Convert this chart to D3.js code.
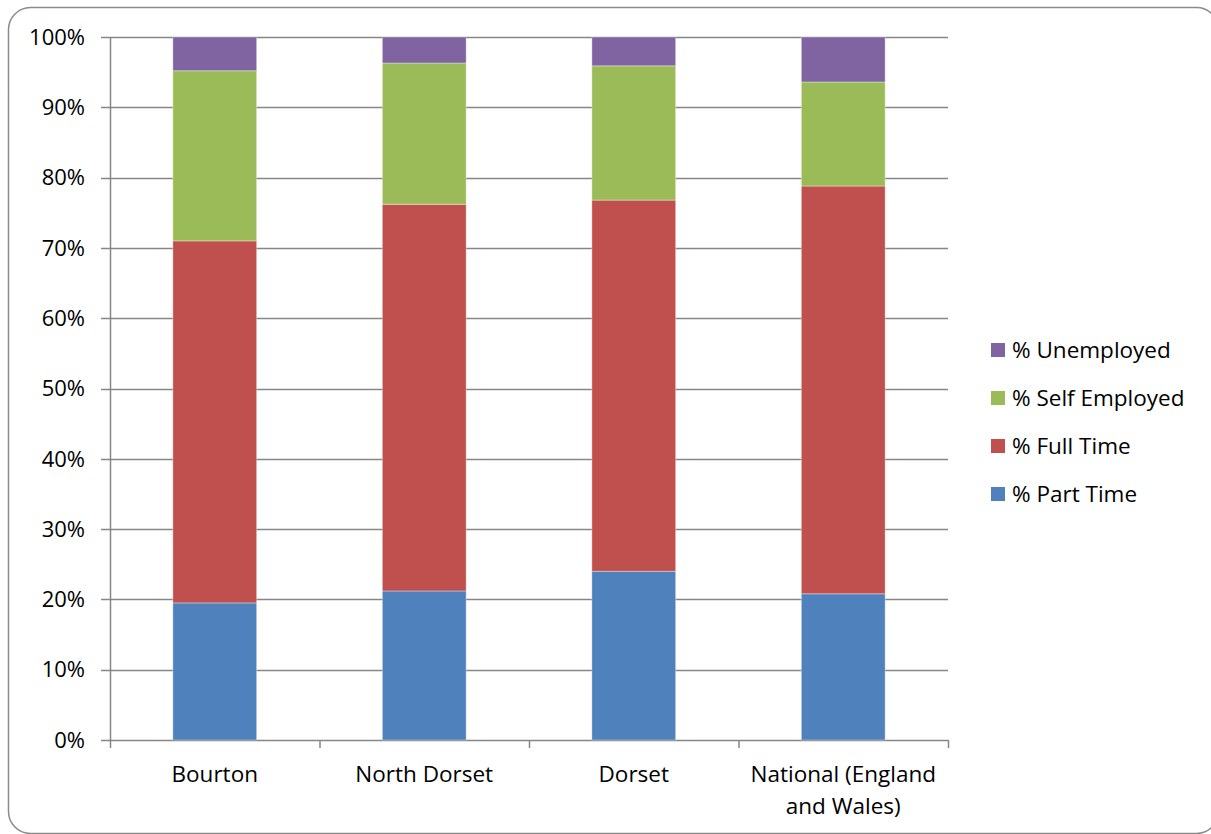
<!DOCTYPE html>
<html><head><meta charset="utf-8">
<script src="https://cdn.jsdelivr.net/npm/d3@7"></script>
<style>body{margin:0;background:#fff}svg{display:block}</style>
</head><body>
<svg id="c" width="1211" height="834"></svg>
<script>
const categories = ["Bourton", "North Dorset", "Dorset", "National (England and Wales)"];
const categoryLines = [["Bourton"], ["North Dorset"], ["Dorset"], ["National (England", "and Wales)"]];
const seriesNames = ["% Part Time", "% Full Time", "% Self Employed", "% Unemployed"];
const partTime = [19.5, 21.2, 24.0, 20.8];
const fullTime = [51.5, 55.0, 52.8, 58.0];
const selfEmployed = [24.2, 20.1, 19.1, 14.8];
const unemployed = [4.8, 3.7, 4.1, 6.4];
const colors = ["#4F81BD", "#C0504D", "#9BBB59", "#8064A2"];
const yTicks = [0, 10, 20, 30, 40, 50, 60, 70, 80, 90, 100];

const font = "'Open Sans', sans-serif";
const fsY = 22, fs = 22.5;
const svg = d3.select("#c");
svg.append("rect").attr("x", 8.5).attr("y", 7.5).attr("width", 1210).attr("height", 826)
  .attr("rx", 22).attr("fill", "#fff").attr("stroke", "#8a8a8a").attr("stroke-width", 1.5);

const L = 110, R = 948, T = 37, B = 740;
const x = d3.scaleBand().domain(categories).range([L, R]).paddingInner(0.6).paddingOuter(0.3);
const y = d3.scaleLinear().domain([0, 100]).range([B, T]);

const rows = categories.map((c, i) => ({cat: c, v: [partTime[i], fullTime[i], selfEmployed[i], unemployed[i]]}));
const stackData = rows.map(r => { const o = {cat: r.cat}; seriesNames.forEach((s, j) => o[s] = r.v[j]); return o; });
const stacked = d3.stack().keys(seriesNames)(stackData);

// gridlines
svg.append("g").selectAll("line").data(yTicks).join("line")
  .attr("x1", L - 9).attr("x2", R).attr("y1", d => Math.round(y(d)) + 0.5).attr("y2", d => Math.round(y(d)) + 0.5)
  .attr("stroke", "#868686").attr("stroke-width", 1.5);

// bars
svg.append("g").selectAll("g").data(stacked).join("g")
  .attr("fill", (d, i) => colors[i])
  .selectAll("rect").data(d => d).join("rect")
  .attr("x", d => x(d.data.cat)).attr("width", x.bandwidth())
  .attr("y", d => y(Math.min(100, d[1]))).attr("height", d => y(d[0]) - y(Math.min(100, d[1])))
  .attr("stroke", "rgba(255,255,255,0.35)").attr("stroke-width", 1);

// y axis line
svg.append("line").attr("x1", L + 0.5).attr("x2", L + 0.5).attr("y1", T).attr("y2", B + 1)
  .attr("stroke", "#868686").attr("stroke-width", 1.5);
// x axis ticks
const step = (R - L) / categories.length;
const xt = d3.range(categories.length + 1).map(i => L + i * step);
svg.append("g").selectAll("line").data(xt).join("line")
  .attr("x1", d => d + 0.5).attr("x2", d => d + 0.5).attr("y1", B).attr("y2", B + 8)
  .attr("stroke", "#868686").attr("stroke-width", 1.5);

// y labels
svg.append("g").selectAll("text").data(yTicks).join("text")
  .attr("x", 85).attr("y", d => y(d)).attr("dy", "0.35em").attr("text-anchor", "end")
  .attr("font-family", font).attr("font-size", fsY).attr("fill", "#000").text(d => d + "%");

// x labels
const xl = svg.append("g").selectAll("text").data(categories).join("text")
  .attr("text-anchor", "middle").attr("font-family", font).attr("font-size", fs).attr("fill", "#000")
  .attr("transform", d => `translate(${x(d) + x.bandwidth() / 2},782)`);
xl.selectAll("tspan").data((d, i) => categoryLines[i]).join("tspan")
  .attr("x", 0).attr("dy", (d, i) => i === 0 ? 0 : 32).text(d => d);

// legend
const legendOrder = [3, 2, 1, 0];
const lg = svg.append("g").selectAll("g").data(legendOrder).join("g")
  .attr("transform", (d, i) => `translate(991,${350 + i * 48})`);
lg.append("rect").attr("x", 0).attr("y", -7).attr("width", 14).attr("height", 14).attr("fill", d => colors[d]);
lg.append("text").attr("x", 21).attr("dy", "0.35em").attr("font-family", font).attr("font-size", fs)
  .attr("fill", "#000").text(d => seriesNames[d]);
</script>
</body></html>
